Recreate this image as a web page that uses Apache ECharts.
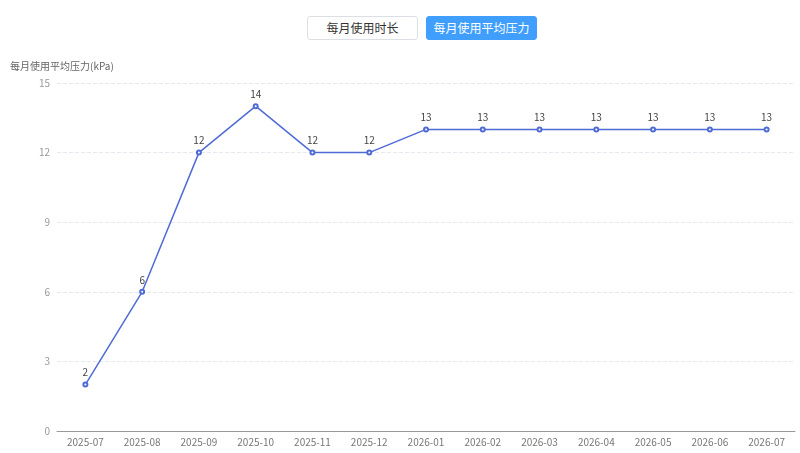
<!DOCTYPE html>
<html>
<head>
<meta charset="utf-8">
<script src="https://cdn.jsdelivr.net/npm/echarts@6/dist/echarts.min.js"></script>
<style>
  html, body { margin: 0; padding: 0; background: #fff; }
  #wrap { position: relative; width: 800px; height: 453px; }
  #chart { width: 800px; height: 453px; }
  .tabs { position: absolute; top: 16px; left: 307px; z-index: 2; font-family: "Noto Sans CJK SC", sans-serif; }
  .tabs span {
    position: absolute; top: 0; height: 24px; line-height: 22px; width: 111px;
    text-align: center; font-size: 12px; border-radius: 3px; box-sizing: border-box;
  }
  .tabs .off { left: 0; border: 1px solid #dcdfe6; color: #333; background: #fff; }
  .tabs .on { left: 119px; background: #409eff; color: #fff; border: 1px solid #409eff; }
</style>
</head>
<body>
<div id="wrap">
  <div class="tabs">
    <span class="off">每月使用时长</span>
    <span class="on">每月使用平均压力</span>
  </div>
  <div id="chart"></div>
</div>
<script>
  // 月份
  var months = ['2025-07', '2025-08', '2025-09', '2025-10', '2025-11', '2025-12',
    '2026-01', '2026-02', '2026-03', '2026-04', '2026-05', '2026-06', '2026-07'];
  // 每月平均压力 (kPa)
  var pressure = [2, 6, 12, 14, 12, 12, 13, 13, 13, 13, 13, 13, 13];

  var myChart = echarts.init(document.getElementById('chart'));

  var option = {
    textStyle: { fontFamily: '"Noto Sans CJK SC", sans-serif' },
    grid: { left: 57, right: 5, top: 83, bottom: 22, containLabel: false },
    xAxis: {
      type: 'category',
      data: months,
      axisTick: { show: false },
      axisLine: { lineStyle: { color: '#999' } },
      axisLabel: { color: '#777', fontSize: 10, margin: 6 }
    },
    yAxis: {
      type: 'value',
      name: '每月使用平均压力(kPa)',
      nameGap: 12,
      nameTextStyle: { color: '#666', fontSize: 10, align: 'left', padding: [0, 0, 0, -47] },
      min: 0,
      max: 15,
      interval: 3,
      axisLabel: { color: '#999', fontSize: 10, margin: 7 },
      splitLine: { lineStyle: { type: 'dashed', color: '#e6e8ef' } }
    },
    series: [{
      type: 'line',
      data: pressure,
      symbol: 'emptyCircle',
      symbolSize: 4,
      lineStyle: { width: 1.5, color: '#4f6bd6' },
      itemStyle: { color: '#4f6bd6' },
      label: { show: true, position: 'top', color: '#444', fontSize: 10, distance: 4 }
    }]
  };

  myChart.setOption(option);
</script>
</body>
</html>
